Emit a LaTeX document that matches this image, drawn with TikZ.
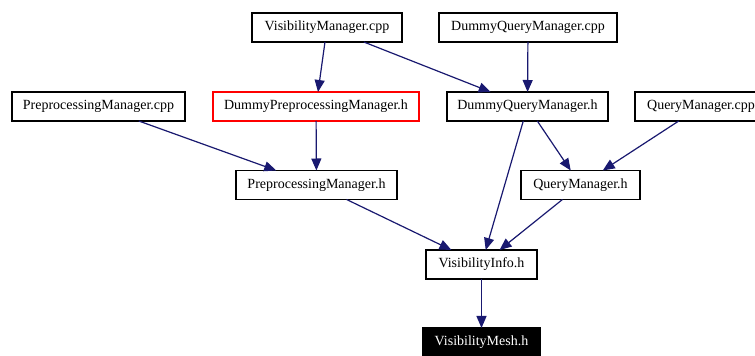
\documentclass[tikz,border=0pt]{standalone}
\usepackage{fontspec}
\setmainfont{Liberation Serif}
\usetikzlibrary{arrows.meta}
\definecolor{edgecol}{RGB}{25,25,112}
\begin{document}
\begin{tikzpicture}[x=1pt,y=1pt,
  box/.style={draw=black,line width=1.1pt,fill=white,inner sep=0pt,outer sep=0pt,minimum height=29pt,font=\fontsize{14}{16}\selectfont},
  redbox/.style={box,draw=red},
  darkbox/.style={box,fill=black,text=white},
  dep/.style={draw=edgecol,line width=1.2pt,-{Triangle[length=12pt,width=10pt]}}]
\useasboundingbox (0,0) rectangle (755,356);
\fill[white] (0,0) rectangle (755,356);
\node[box,minimum width=150pt] (vm) at (327,328.5) {VisibilityManager.cpp};
\node[box,minimum width=178pt] (dqmc) at (528,328.5) {DummyQueryManager.cpp};
\node[box,minimum width=173pt] (ppc) at (98.5,249.5) {PreprocessingManager.cpp};
\node[redbox,minimum width=206pt] (dpmh) at (316,249.5) {DummyPreprocessingManager.h};
\node[box,minimum width=161pt] (dqmh) at (527.5,249.5) {DummyQueryManager.h};
\node[box,minimum width=132pt] (qmc) at (701,249.5) {QueryManager.cpp};
\node[box,minimum width=161pt] (pph) at (316.5,171) {PreprocessingManager.h};
\node[box,minimum width=119pt] (qmh) at (580.5,171) {QueryManager.h};
\node[box,minimum width=111pt] (vi) at (481.5,91.5) {VisibilityInfo.h};
\node[darkbox,minimum width=117pt] (vmesh) at (481.5,13.5) {VisibilityMesh.h};
\draw[dep] (vm) -- (dpmh);
\draw[dep] (vm) -- (dqmh);
\draw[dep] (dqmc) -- (dqmh);
\draw[dep] (ppc) -- (pph);
\draw[dep] (dpmh) -- (pph);
\draw[dep] (dqmh) -- (vi);
\draw[dep] (dqmh) -- (qmh);
\draw[dep] (qmc) -- (qmh);
\draw[dep] (pph) -- (vi);
\draw[dep] (qmh) -- (vi);
\draw[dep] (vi) -- (vmesh);
\end{tikzpicture}
\end{document}
